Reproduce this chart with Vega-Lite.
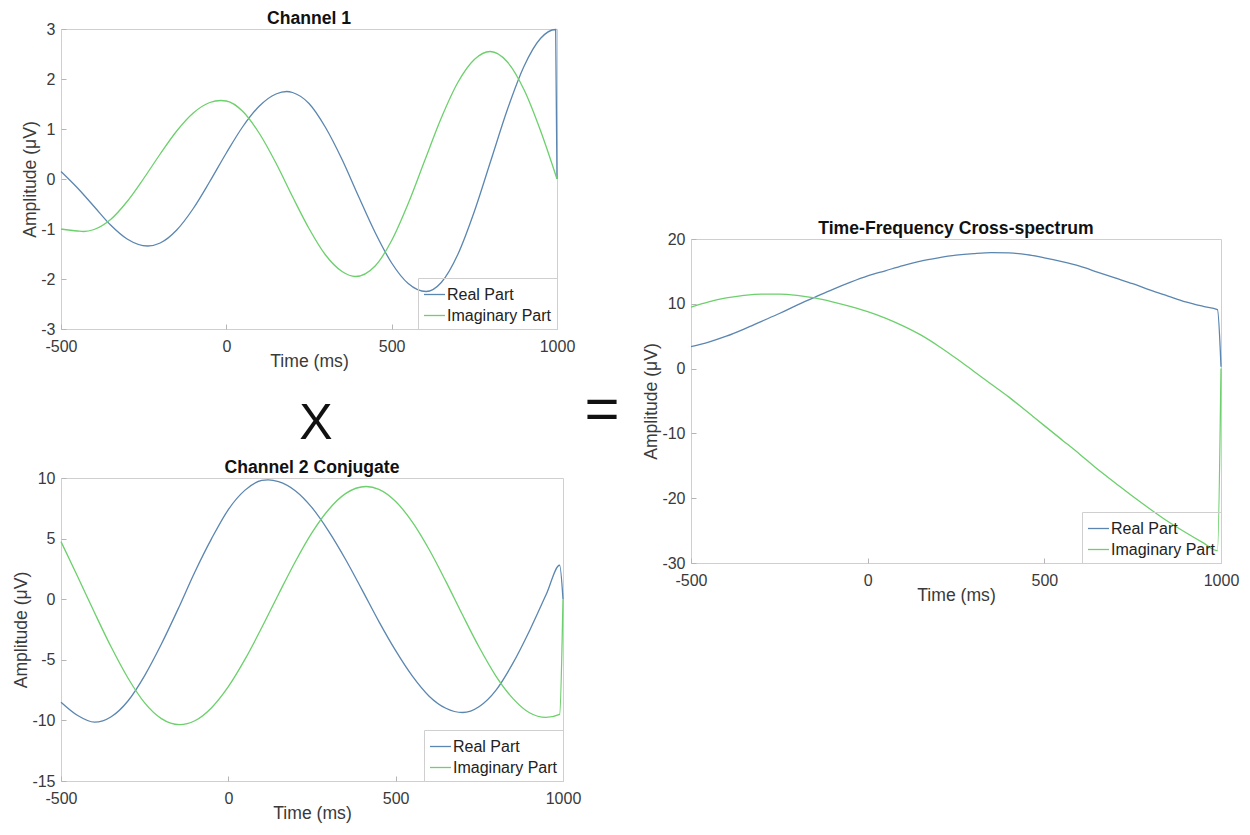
{
  "$schema": "https://vega.github.io/schema/vega-lite/v6.json",
  "background": "white",
  "padding": {"left": 12, "top": 9, "right": 0, "bottom": 0},
  "spacing": 0,
  "config": {
    "font": "Liberation Sans",
    "view": {"stroke": "#cfcfcf", "strokeWidth": 1},
    "axis": {
      "domain": false, "grid": false, "ticks": true, "tickSize": -5, "tickColor": "#b5b5b5",
      "labelFont": "Liberation Sans", "labelFontSize": 16, "labelColor": "#3a3a3a", "labelFlush": false,
      "labelOverlap": false, "labelExpr": "'' + datum.value",
      "titleFont": "Liberation Sans", "titleFontSize": 17.6, "titleFontWeight": "normal", "titleColor": "#3a3a3a"
    },
    "axisX": {"titlePadding": -2, "labelPadding": 14},
    "axisY": {"titlePadding": 1, "labelPadding": 11},
    "title": {"font": "Liberation Sans", "fontSize": 17.6, "fontWeight": "bold", "color": "#111111", "frame": "group", "anchor": "middle", "offset": -7, "baseline": "alphabetic"},
    "legend": {"orient": "bottom-right", "offset": 0, "symbolType": "stroke", "symbolSize": 441, "symbolStrokeWidth": 1.5,
      "labelFont": "Liberation Sans", "labelFontSize": 16, "labelColor": "#222222", "labelOffset": 1, "padding": 5, "rowPadding": 1,
      "strokeColor": "#cfcfcf", "fillColor": "transparent"},
    "line": {"strokeWidth": 1.3, "interpolate": "monotone"}
  },
  "datasets": {
    "ch1": [
      {"t": -500, "part": "Real Part", "v": 0.15}, {"t": -450, "part": "Real Part", "v": -0.18}, {"t": -400, "part": "Real Part", "v": -0.55},
      {"t": -350, "part": "Real Part", "v": -0.92}, {"t": -300, "part": "Real Part", "v": -1.2}, {"t": -238, "part": "Real Part", "v": -1.34},
      {"t": -200, "part": "Real Part", "v": -1.28}, {"t": -150, "part": "Real Part", "v": -1.02}, {"t": -100, "part": "Real Part", "v": -0.59},
      {"t": -50, "part": "Real Part", "v": -0.05}, {"t": 0, "part": "Real Part", "v": 0.52}, {"t": 50, "part": "Real Part", "v": 1.05},
      {"t": 100, "part": "Real Part", "v": 1.46}, {"t": 150, "part": "Real Part", "v": 1.7}, {"t": 183, "part": "Real Part", "v": 1.75},
      {"t": 200, "part": "Real Part", "v": 1.73}, {"t": 250, "part": "Real Part", "v": 1.51}, {"t": 300, "part": "Real Part", "v": 1.03},
      {"t": 350, "part": "Real Part", "v": 0.39}, {"t": 400, "part": "Real Part", "v": -0.35}, {"t": 450, "part": "Real Part", "v": -1.07},
      {"t": 500, "part": "Real Part", "v": -1.68}, {"t": 550, "part": "Real Part", "v": -2.09}, {"t": 604, "part": "Real Part", "v": -2.25},
      {"t": 650, "part": "Real Part", "v": -2.07}, {"t": 700, "part": "Real Part", "v": -1.51}, {"t": 750, "part": "Real Part", "v": -0.65},
      {"t": 800, "part": "Real Part", "v": 0.37}, {"t": 850, "part": "Real Part", "v": 1.39}, {"t": 900, "part": "Real Part", "v": 2.25},
      {"t": 950, "part": "Real Part", "v": 2.81}, {"t": 996, "part": "Real Part", "v": 2.99}, {"t": 1000, "part": "Real Part", "v": 0.0},
      {"t": -500, "part": "Imaginary Part", "v": -1.0}, {"t": -450, "part": "Imaginary Part", "v": -1.04}, {"t": -432, "part": "Imaginary Part", "v": -1.05},
      {"t": -400, "part": "Imaginary Part", "v": -1.01}, {"t": -350, "part": "Imaginary Part", "v": -0.81}, {"t": -300, "part": "Imaginary Part", "v": -0.45},
      {"t": -250, "part": "Imaginary Part", "v": 0.01}, {"t": -200, "part": "Imaginary Part", "v": 0.5}, {"t": -150, "part": "Imaginary Part", "v": 0.96},
      {"t": -100, "part": "Imaginary Part", "v": 1.32}, {"t": -50, "part": "Imaginary Part", "v": 1.53}, {"t": -17, "part": "Imaginary Part", "v": 1.57},
      {"t": 0, "part": "Imaginary Part", "v": 1.56}, {"t": 50, "part": "Imaginary Part", "v": 1.35}, {"t": 100, "part": "Imaginary Part", "v": 0.91},
      {"t": 150, "part": "Imaginary Part", "v": 0.32}, {"t": 200, "part": "Imaginary Part", "v": -0.35}, {"t": 250, "part": "Imaginary Part", "v": -0.99},
      {"t": 300, "part": "Imaginary Part", "v": -1.52}, {"t": 350, "part": "Imaginary Part", "v": -1.85}, {"t": 390, "part": "Imaginary Part", "v": -1.95},
      {"t": 450, "part": "Imaginary Part", "v": -1.74}, {"t": 500, "part": "Imaginary Part", "v": -1.23}, {"t": 550, "part": "Imaginary Part", "v": -0.49},
      {"t": 600, "part": "Imaginary Part", "v": 0.37}, {"t": 650, "part": "Imaginary Part", "v": 1.22}, {"t": 700, "part": "Imaginary Part", "v": 1.93},
      {"t": 750, "part": "Imaginary Part", "v": 2.39}, {"t": 798, "part": "Imaginary Part", "v": 2.55}, {"t": 850, "part": "Imaginary Part", "v": 2.34},
      {"t": 900, "part": "Imaginary Part", "v": 1.79}, {"t": 950, "part": "Imaginary Part", "v": 0.97}, {"t": 1000, "part": "Imaginary Part", "v": 0.0}
    ],
    "ch2": [
      {"t": -500, "part": "Real Part", "v": -8.5}, {"t": -450, "part": "Real Part", "v": -9.6}, {"t": -400, "part": "Real Part", "v": -10.15},
      {"t": -350, "part": "Real Part", "v": -9.7}, {"t": -300, "part": "Real Part", "v": -8.4}, {"t": -250, "part": "Real Part", "v": -6.3},
      {"t": -200, "part": "Real Part", "v": -3.7}, {"t": -150, "part": "Real Part", "v": -0.8}, {"t": -100, "part": "Real Part", "v": 2.25},
      {"t": -50, "part": "Real Part", "v": 5.0}, {"t": 0, "part": "Real Part", "v": 7.4}, {"t": 50, "part": "Real Part", "v": 9.0},
      {"t": 100, "part": "Real Part", "v": 9.8}, {"t": 119, "part": "Real Part", "v": 9.85}, {"t": 150, "part": "Real Part", "v": 9.7},
      {"t": 200, "part": "Real Part", "v": 8.95}, {"t": 250, "part": "Real Part", "v": 7.55}, {"t": 300, "part": "Real Part", "v": 5.6},
      {"t": 350, "part": "Real Part", "v": 3.3}, {"t": 400, "part": "Real Part", "v": 0.75}, {"t": 450, "part": "Real Part", "v": -1.85},
      {"t": 500, "part": "Real Part", "v": -4.25}, {"t": 550, "part": "Real Part", "v": -6.35}, {"t": 600, "part": "Real Part", "v": -8.0},
      {"t": 650, "part": "Real Part", "v": -9.0}, {"t": 700, "part": "Real Part", "v": -9.35}, {"t": 750, "part": "Real Part", "v": -8.85},
      {"t": 800, "part": "Real Part", "v": -7.5}, {"t": 850, "part": "Real Part", "v": -5.3}, {"t": 900, "part": "Real Part", "v": -2.6},
      {"t": 950, "part": "Real Part", "v": 0.4}, {"t": 990, "part": "Real Part", "v": 2.8}, {"t": 1000, "part": "Real Part", "v": 0.0},
      {"t": -500, "part": "Imaginary Part", "v": 4.75}, {"t": -450, "part": "Imaginary Part", "v": 1.85}, {"t": -400, "part": "Imaginary Part", "v": -1.1},
      {"t": -350, "part": "Imaginary Part", "v": -3.95}, {"t": -300, "part": "Imaginary Part", "v": -6.5}, {"t": -250, "part": "Imaginary Part", "v": -8.55},
      {"t": -200, "part": "Imaginary Part", "v": -9.85}, {"t": -146, "part": "Imaginary Part", "v": -10.35}, {"t": -100, "part": "Imaginary Part", "v": -10.03},
      {"t": -50, "part": "Imaginary Part", "v": -8.95}, {"t": 0, "part": "Imaginary Part", "v": -7.22}, {"t": 50, "part": "Imaginary Part", "v": -4.95},
      {"t": 100, "part": "Imaginary Part", "v": -2.34}, {"t": 150, "part": "Imaginary Part", "v": 0.41}, {"t": 200, "part": "Imaginary Part", "v": 3.09},
      {"t": 250, "part": "Imaginary Part", "v": 5.49}, {"t": 300, "part": "Imaginary Part", "v": 7.4}, {"t": 350, "part": "Imaginary Part", "v": 8.71},
      {"t": 412, "part": "Imaginary Part", "v": 9.3}, {"t": 450, "part": "Imaginary Part", "v": 9.06}, {"t": 500, "part": "Imaginary Part", "v": 8.06},
      {"t": 550, "part": "Imaginary Part", "v": 6.36}, {"t": 600, "part": "Imaginary Part", "v": 4.1}, {"t": 650, "part": "Imaginary Part", "v": 1.47},
      {"t": 700, "part": "Imaginary Part", "v": -1.31}, {"t": 750, "part": "Imaginary Part", "v": -3.99}, {"t": 800, "part": "Imaginary Part", "v": -6.36},
      {"t": 850, "part": "Imaginary Part", "v": -8.18}, {"t": 900, "part": "Imaginary Part", "v": -9.37}, {"t": 949, "part": "Imaginary Part", "v": -9.75},
      {"t": 990, "part": "Imaginary Part", "v": -9.5}, {"t": 1000, "part": "Imaginary Part", "v": 0.0}
    ],
    "cross": [
      {"t": -500, "part": "Real Part", "v": 3.4}, {"t": -450, "part": "Real Part", "v": 4.1}, {"t": -400, "part": "Real Part", "v": 5.0},
      {"t": -350, "part": "Real Part", "v": 6.1}, {"t": -300, "part": "Real Part", "v": 7.3}, {"t": -250, "part": "Real Part", "v": 8.5},
      {"t": -200, "part": "Real Part", "v": 9.8}, {"t": -150, "part": "Real Part", "v": 11.0}, {"t": -100, "part": "Real Part", "v": 12.2},
      {"t": -50, "part": "Real Part", "v": 13.3}, {"t": 0, "part": "Real Part", "v": 14.3}, {"t": 50, "part": "Real Part", "v": 15.1},
      {"t": 100, "part": "Real Part", "v": 15.9}, {"t": 150, "part": "Real Part", "v": 16.6}, {"t": 200, "part": "Real Part", "v": 17.1},
      {"t": 250, "part": "Real Part", "v": 17.5}, {"t": 300, "part": "Real Part", "v": 17.75}, {"t": 350, "part": "Real Part", "v": 17.9},
      {"t": 400, "part": "Real Part", "v": 17.85}, {"t": 450, "part": "Real Part", "v": 17.6}, {"t": 500, "part": "Real Part", "v": 17.1},
      {"t": 550, "part": "Real Part", "v": 16.5}, {"t": 600, "part": "Real Part", "v": 15.8}, {"t": 650, "part": "Real Part", "v": 14.9},
      {"t": 700, "part": "Real Part", "v": 14.0}, {"t": 750, "part": "Real Part", "v": 13.1}, {"t": 800, "part": "Real Part", "v": 12.1},
      {"t": 850, "part": "Real Part", "v": 11.2}, {"t": 900, "part": "Real Part", "v": 10.3}, {"t": 950, "part": "Real Part", "v": 9.6},
      {"t": 990, "part": "Real Part", "v": 9.1}, {"t": 1000, "part": "Real Part", "v": 0.3},
      {"t": -500, "part": "Imaginary Part", "v": 9.5}, {"t": -450, "part": "Imaginary Part", "v": 10.3}, {"t": -400, "part": "Imaginary Part", "v": 10.9},
      {"t": -350, "part": "Imaginary Part", "v": 11.3}, {"t": -300, "part": "Imaginary Part", "v": 11.5}, {"t": -250, "part": "Imaginary Part", "v": 11.5},
      {"t": -200, "part": "Imaginary Part", "v": 11.3}, {"t": -150, "part": "Imaginary Part", "v": 10.9}, {"t": -100, "part": "Imaginary Part", "v": 10.3},
      {"t": -50, "part": "Imaginary Part", "v": 9.6}, {"t": 0, "part": "Imaginary Part", "v": 8.8}, {"t": 50, "part": "Imaginary Part", "v": 7.8},
      {"t": 100, "part": "Imaginary Part", "v": 6.6}, {"t": 150, "part": "Imaginary Part", "v": 5.2}, {"t": 200, "part": "Imaginary Part", "v": 3.5},
      {"t": 250, "part": "Imaginary Part", "v": 1.6}, {"t": 300, "part": "Imaginary Part", "v": -0.4}, {"t": 350, "part": "Imaginary Part", "v": -2.4},
      {"t": 400, "part": "Imaginary Part", "v": -4.4}, {"t": 450, "part": "Imaginary Part", "v": -6.6}, {"t": 500, "part": "Imaginary Part", "v": -8.8},
      {"t": 550, "part": "Imaginary Part", "v": -11.0}, {"t": 600, "part": "Imaginary Part", "v": -13.2}, {"t": 650, "part": "Imaginary Part", "v": -15.5},
      {"t": 700, "part": "Imaginary Part", "v": -17.6}, {"t": 750, "part": "Imaginary Part", "v": -19.7}, {"t": 800, "part": "Imaginary Part", "v": -21.7},
      {"t": 850, "part": "Imaginary Part", "v": -23.6}, {"t": 900, "part": "Imaginary Part", "v": -25.3}, {"t": 950, "part": "Imaginary Part", "v": -26.9},
      {"t": 990, "part": "Imaginary Part", "v": -28.1}, {"t": 1000, "part": "Imaginary Part", "v": 0.0}
    ],
    "times": [{"sym": "X"}],
    "equals": [{"sym": "="}],
    "empty": []
  },
  "resolve": {"scale": {"color": "independent"}},
  "hconcat": [
    {
      "vconcat": [
        {
          "width": 496, "height": 300,
          "title": "Channel 1",
          "data": {"name": "ch1"},
          "mark": {"type": "line"},
          "encoding": {
            "x": {"field": "t", "type": "quantitative", "scale": {"domain": [-500, 1000], "nice": false}, "axis": {"values": [-500, 0, 500, 1000], "title": "Time (ms)"}},
            "y": {"field": "v", "type": "quantitative", "scale": {"domain": [-3, 3], "nice": false, "zero": false}, "axis": {"values": [-3, -2, -1, 0, 1, 2, 3], "title": "Amplitude (μV)"}},
            "color": {"field": "part", "type": "nominal", "scale": {"domain": ["Real Part", "Imaginary Part"], "range": ["#5b86b0", "#6cd06c"]}, "legend": {"title": null}}
          }
        },
        {
          "width": 496, "height": 69,
          "view": {"stroke": null},
          "data": {"name": "times"},
          "mark": {"type": "text", "font": "Liberation Sans", "fontSize": 50, "color": "#111111", "dx": 7, "dy": 20},
          "encoding": {"text": {"field": "sym"}}
        },
        {
          "width": 502, "height": 303,
          "title": "Channel 2 Conjugate",
          "data": {"name": "ch2"},
          "mark": {"type": "line"},
          "encoding": {
            "x": {"field": "t", "type": "quantitative", "scale": {"domain": [-500, 1000], "nice": false}, "axis": {"values": [-500, 0, 500, 1000], "title": "Time (ms)"}},
            "y": {"field": "v", "type": "quantitative", "scale": {"domain": [-15, 10], "nice": false, "zero": false}, "axis": {"values": [-15, -10, -5, 0, 5, 10], "title": "Amplitude (μV)"}},
            "color": {"field": "part", "type": "nominal", "scale": {"domain": ["Real Part", "Imaginary Part"], "range": ["#5b86b0", "#6cd06c"]}, "legend": {"title": null}}
          }
        }
      ],
      "bounds": "flush",
      "spacing": 40,
      "resolve": {"scale": {"color": "independent"}}
    },
    {
      "width": 60, "height": 764,
      "view": {"stroke": null},
      "data": {"name": "equals"},
      "mark": {"type": "text", "font": "Liberation Sans", "fontSize": 60, "color": "#111111", "dx": -10},
      "encoding": {"text": {"field": "sym"}}
    },
    {
      "vconcat": [
        {
          "width": 530, "height": 190,
          "view": {"stroke": null},
          "data": {"name": "empty"},
          "mark": {"type": "text"},
          "encoding": {}
        },
        {
          "width": 530, "height": 324,
          "title": "Time-Frequency Cross-spectrum",
          "data": {"name": "cross"},
          "mark": {"type": "line"},
          "encoding": {
            "x": {"field": "t", "type": "quantitative", "scale": {"domain": [-500, 1000], "nice": false}, "axis": {"values": [-500, 0, 500, 1000], "title": "Time (ms)"}},
            "y": {"field": "v", "type": "quantitative", "scale": {"domain": [-30, 20], "nice": false, "zero": false}, "axis": {"values": [-30, -20, -10, 0, 10, 20], "title": "Amplitude (μV)"}},
            "color": {"field": "part", "type": "nominal", "scale": {"domain": ["Real Part", "Imaginary Part"], "range": ["#5b86b0", "#6cd06c"]}, "legend": {"title": null}}
          }
        }
      ],
      "spacing": 0,
      "resolve": {"scale": {"color": "independent"}}
    }
  ]
}
